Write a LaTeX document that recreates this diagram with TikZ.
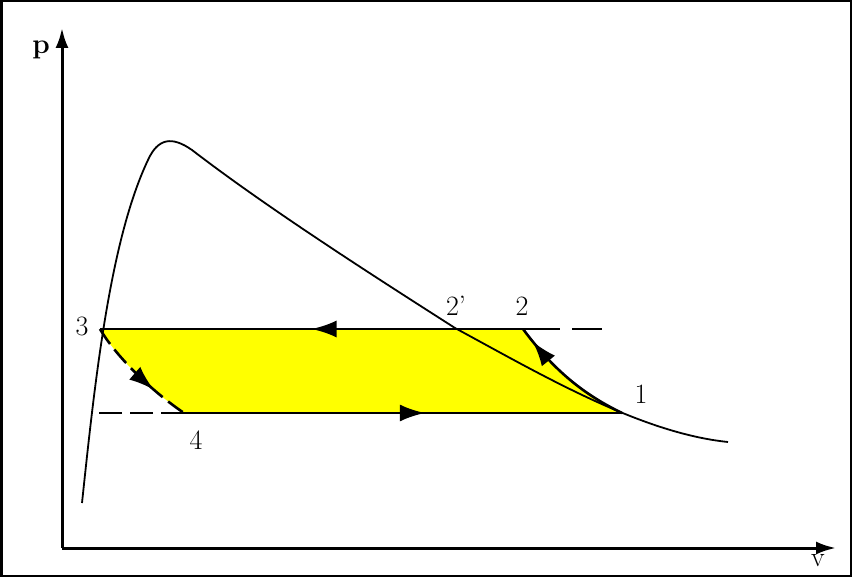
\documentclass[tikz,border=0pt]{standalone}
\usetikzlibrary{arrows.meta,decorations.markings}
\definecolor{cycfill}{RGB}{255,255,0}
\begin{document}
\begin{tikzpicture}[x=1pt,y=-1pt,
  axis/.style={line width=3pt,-{Latex[length=20pt,width=13pt]}},
  dome/.style={line width=1.8pt},
  cyc/.style={line width=2.6pt},
  lbl/.style={font=\fontsize{28}{30}\selectfont,inner sep=0pt},
  midarrow/.style={postaction={decorate},decoration={markings,
     mark=at position #1 with {\arrow{Latex[length=25pt,width=17pt]}}}}]
\useasboundingbox (0,0) rectangle (852,577);
\draw[line width=2.5pt] (1.25,1.25) rectangle (850.75,575.75);
% points
\coordinate (O) at (62,548);
\coordinate (ytip) at (62,28);
\coordinate (xtip) at (836,548);
\coordinate (p3) at (100,329);
\coordinate (p2) at (523,329);
\coordinate (p2e) at (602,329);
\coordinate (p1) at (622,413);
\coordinate (p4) at (184,413);
\coordinate (p4e) at (92,413);
% fill
\fill[cycfill] (p3) -- (p2) .. controls (555,372) and (585,395) .. (p1) -- (p4)
  .. controls (150,390) and (115,355) .. (p3) -- cycle;
% axes
\draw[axis] (O) -- (ytip);
\draw[axis] (O) -- (xtip);
\node[lbl,font=\fontsize{28}{30}\selectfont\bfseries] (lp) at (41,50) {p};
\node[lbl] (lv) at (818,561) {v};
% dome
\draw[dome] (82,503) .. controls (95,380) and (110,240) .. (148,160)
  .. controls (158,138) and (172,136) .. (192,150)
  .. controls (270,210) and (380,280) .. (455,328)
  .. controls (540,374) and (640,433) .. (728,442);
% cycle
\draw[cyc,midarrow=0.5] (p2) -- (p3);
\draw[cyc,midarrow=0.55] (p4) -- (p1);
\draw[cyc,midarrow=0.88] (p1) .. controls (585,395) and (555,372) .. (p2);
\draw[cyc,dash pattern=on 18pt off 7pt,midarrow=0.68] (p3) .. controls (115,355) and (150,390) .. (p4);
\draw[cyc,dash pattern=on 37pt off 12pt] (p2) -- (p2e);
\draw[cyc,dash pattern=on 23pt off 8pt] (p4) -- (p4e);
% labels
\node[lbl] (l3) at (82,326) {3};
\node[lbl] (l2p) at (456,306) {2'};
\node[lbl] (l2) at (522,306) {2};
\node[lbl] (l1) at (641,394) {1};
\node[lbl] (l4) at (196,440) {4};
\end{tikzpicture}
\end{document}
